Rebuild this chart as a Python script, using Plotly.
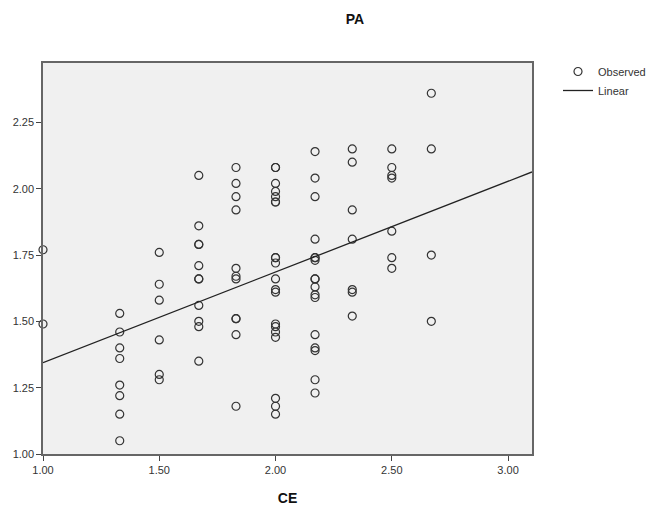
import plotly.graph_objects as go

# ---- data ----
ce_levels = [1.00, 1.33, 1.50, 1.67, 1.83, 2.00, 2.17, 2.33, 2.50, 2.67]
pa_by_level = [
    [1.77, 1.49],
    [1.53, 1.46, 1.40, 1.36, 1.26, 1.22, 1.15, 1.05],
    [1.76, 1.64, 1.58, 1.43, 1.30, 1.28],
    [2.05, 1.86, 1.79, 1.79, 1.71, 1.66, 1.66, 1.56, 1.50, 1.48, 1.35],
    [2.08, 2.02, 1.97, 1.92, 1.70, 1.66, 1.67, 1.51, 1.51, 1.45, 1.18],
    [2.08, 2.08, 2.02, 1.99, 1.97, 1.95, 1.95, 1.74, 1.74, 1.72, 1.66,
     1.62, 1.61, 1.49, 1.48, 1.46, 1.44, 1.21, 1.18, 1.15],
    [2.14, 2.04, 1.97, 1.81, 1.74, 1.74, 1.73, 1.66, 1.66, 1.63, 1.60,
     1.59, 1.45, 1.40, 1.39, 1.28, 1.23],
    [2.15, 2.10, 1.92, 1.81, 1.61, 1.62, 1.52],
    [2.15, 2.08, 2.05, 2.04, 1.84, 1.74, 1.70],
    [2.36, 2.15, 1.75, 1.50],
]
fit_intercept = 1.002
fit_slope = 0.342
x_range = [1.0, 3.103]
y_range = [1.0, 2.474]
x_ticks = [1.0, 1.5, 2.0, 2.5, 3.0]
y_ticks = [1.0, 1.25, 1.5, 1.75, 2.0, 2.25]

ce = [lv for lv, vals in zip(ce_levels, pa_by_level) for _ in vals]
pa = [v for vals in pa_by_level for v in vals]
fit_x = x_range
fit_y = [fit_intercept + fit_slope * x for x in fit_x]

FONT = "Liberation Sans, Arial, sans-serif"
OFF = 8  # page body margin offset compensation
W, H = 655, 511
PLOT_W, PLOT_H = 489, 391
L = 43 - OFF
T = 63 - OFF

fig = go.Figure()
fig.add_trace(go.Scatter(
    x=ce, y=pa, mode="markers", name="Observed",
    marker=dict(symbol="circle-open", size=8, color="#333333",
                line=dict(width=1.2, color="#333333")),
    cliponaxis=False,
))
fig.add_trace(go.Scatter(
    x=fit_x, y=fit_y, mode="lines", name="Linear",
    line=dict(color="#222222", width=1.3),
))

fig.update_layout(
    width=W, height=H,
    margin=dict(l=L, r=W - L - PLOT_W, t=T, b=H - T - PLOT_H, autoexpand=False),
    paper_bgcolor="white",
    plot_bgcolor="#F0F0F0",
    font=dict(family=FONT, size=11, color="#333333"),
    title=dict(text="<b>PA</b>", x=(355 - OFF) / W, xanchor="center",
               y=1 - (19 - OFF) / H, yanchor="middle",
               font=dict(family=FONT, size=14, color="#111111")),
    showlegend=True,
    legend=dict(x=(558 - 43) / PLOT_W, xanchor="left",
                y=(454 - 57) / PLOT_H, yanchor="top",
                bgcolor="rgba(0,0,0,0)",
                font=dict(family=FONT, size=11, color="#333333"),
                tracegroupgap=0, itemwidth=30),
)
fig.update_xaxes(
    range=x_range, tickvals=x_ticks, tickformat=".2f",
    showgrid=False, zeroline=False, automargin=False,
    showline=True, mirror=True, linecolor="#666666", linewidth=1.5,
    ticks="outside", ticklen=5, tickcolor="#444444", tickwidth=1,
    title=dict(text="<b>CE</b>", font=dict(family=FONT, size=14, color="#111111"),
               standoff=18),
)
fig.update_yaxes(
    range=y_range, tickvals=y_ticks, tickformat=".2f",
    showgrid=False, zeroline=False, automargin=False,
    showline=True, mirror=True, linecolor="#666666", linewidth=1.5,
    ticks="outside", ticklen=5, tickcolor="#444444", tickwidth=1,
)

fig.write_html("out.html")
